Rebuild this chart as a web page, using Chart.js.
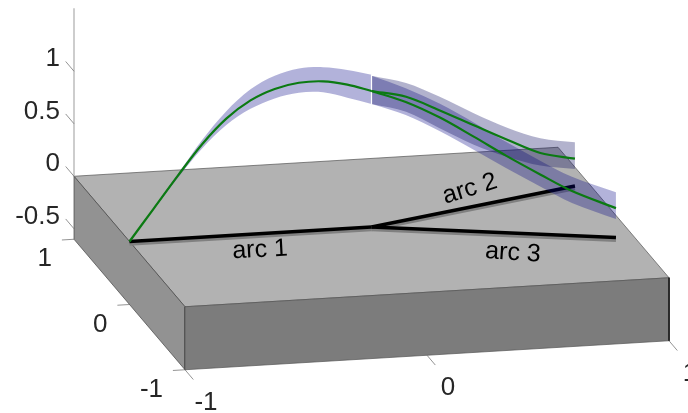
<!DOCTYPE html>
<html>
<head>
<meta charset="utf-8">
<style>
  html, body { margin: 0; padding: 0; background: #fff; overflow: hidden; }
  canvas { display: block; }
</style>
<script src="https://cdn.jsdelivr.net/npm/chart.js@4"></script>
</head>
<body>
<canvas id="grafico" width="688" height="413"></canvas>
<script>
// valores
const zTicks = [-0.5, 0, 0.5, 1];
const yTicks = [-1, 0, 1];
const xTicks = [-1, 0, 1];

// arco 1: de (-1,0) ate a juncao (0,0)
const arc1X = [-1, -0.9, -0.8, -0.7, -0.6, -0.5, -0.4, -0.3, -0.2, -0.1, 0];
const arc1Mean = [0, 0.3, 0.6, 0.885, 1.115, 1.275, 1.37, 1.415, 1.415, 1.37, 1.295];
const arc1Upper = [0, 0.305, 0.615, 0.925, 1.185, 1.38, 1.495, 1.55, 1.55, 1.51, 1.45];
const arc1Lower = [0, 0.29, 0.58, 0.845, 1.055, 1.195, 1.28, 1.32, 1.31, 1.245, 1.171];

// arco 2: da juncao ate (0.937, 0.42)
const arc2End = [0.937, 0.42];
const arc2S = [0, 0.17, 0.33, 0.5, 0.67, 0.83, 1];
const arc2Mean = [1.295, 1.174, 0.986, 0.776, 0.567, 0.381, 0.26];
const arc2Upper = [1.441, 1.306, 1.116, 0.891, 0.681, 0.521, 0.416];
const arc2Lower = [1.171, 1.031, 0.816, 0.591, 0.406, 0.261, 0.161];

// arco 3: da juncao ate (0.926, -0.367)
const arc3End = [0.926, -0.367];
const arc3S = [0, 0.14, 0.28, 0.42, 0.55, 0.69, 0.82, 1];
const arc3Mean = [1.295, 1.205, 1.07, 0.9, 0.735, 0.57, 0.425, 0.28];
const arc3Upper = [1.441, 1.336, 1.201, 1.036, 0.866, 0.701, 0.561, 0.43];
const arc3Lower = [1.171, 1.081, 0.941, 0.776, 0.616, 0.456, 0.311, 0.176];

const arcLabels = ["arc 1", "arc 2", "arc 3"];
const arcLabelX = [-0.515, 0.514, 0.469];
const arcLabelY = [-0.238, 0.468, -0.503];
const arcLabelRot = [-3, -17, 4];

const zBase = -0.6;
const zTop = 1.6;

// projecao 3D -> plano do grafico (vista afim do matlab)
function proj(x, y, z) {
  return {
    x: 371.5 + x * 242 - y * 55.5,
    y: 227 - x * 14.5 - y * 65.25 - z * 105
  };
}

const lista = [];

function poly(pts, fillCor, bordaCor, bordaW) {
  lista.push({
    data: pts, fill: "shape", backgroundColor: fillCor,
    borderColor: bordaCor, borderWidth: bordaW, tension: 0
  });
}
function linha(pts, cor, w, extra) {
  lista.push(Object.assign({
    data: pts, fill: false, borderColor: cor, borderWidth: w, tension: 0
  }, extra || {}));
}
function banda(up, low, cor) {
  lista.push({ data: up, fill: { target: "+1" }, backgroundColor: cor, borderWidth: 0, tension: 0.33 });
  lista.push({ data: low, fill: false, borderWidth: 0, tension: 0.33 });
}

// caixa
const c = (x, y, z) => proj(x, y, z);
poly([c(-1, 1, 0), c(1, 1, 0), c(1, -1, 0), c(-1, -1, 0), c(-1, 1, 0)], "#b2b2b2", "#555", 0.7);
poly([c(-1, 1, 0), c(-1, -1, 0), c(-1, -1, zBase), c(-1, 1, zBase), c(-1, 1, 0)], "#929292", "#444", 0.7);
poly([c(-1, -1, 0), c(1, -1, 0), c(1, -1, zBase), c(-1, -1, zBase), c(-1, -1, 0)], "#7c7c7c", "#555", 0.7);
linha([c(1, -1, 0), c(1, -1, zBase)], "#222", 1);

// eixo z e marcas
linha([c(-1, 1, 0), c(-1, 1, zTop)], "#bdbdbd", 1.5);
zTicks.forEach(t => linha([c(-1, 1, t), c(-1, 1.15, t)], "#666", 0.7));
yTicks.forEach(t => linha([c(-1, t, zBase), c(-1.05, t, zBase)], "#666", 0.7));
xTicks.forEach(t => linha([c(t, -1, zBase), c(t, -1.15, zBase)], "#666", 0.7));

// arcos no plano: sombra cinza e linha preta
const ends = [[-1, 0], arc2End, arc3End];
ends.forEach(e => linha([c(e[0], e[1], -0.025), c(0, 0, -0.025)], "#808080", 3.5));
ends.forEach(e => linha([c(e[0], e[1], 0), c(0, 0, 0)], "#000", 3.5));

// faixas
const pontos1 = zs => arc1X.map((x, i) => proj(x, 0, zs[i]));
const pontos2 = zs => arc2S.map((s, i) => proj(s * arc2End[0], s * arc2End[1], zs[i]));
const pontos3 = zs => arc3S.map((s, i) => proj(s * arc3End[0], s * arc3End[1], zs[i]));

banda(pontos1(arc1Upper), pontos1(arc1Lower), "rgba(0,0,133,0.3)");
banda(pontos3(arc3Upper), pontos3(arc3Lower), "rgba(0,0,133,0.3)");
banda(pontos2(arc2Upper), pontos2(arc2Lower), "rgba(0,0,90,0.3)");

linha([proj(0, 0, arc1Lower[10]), proj(0, 0, arc1Upper[10])], "#ffffff", 1.2);

const verde = "#0b7a12";
linha(pontos1(arc1Mean), verde, 2.2, { tension: 0.33 });
linha(pontos3(arc3Mean), verde, 2.2, { tension: 0.33 });
linha(pontos2(arc2Mean), verde, 2.2, { tension: 0.33 });

lista.forEach((d, i) => {
  d.order = lista.length - i;
  d.pointRadius = 0;
  d.clip = false;
});

// textos presos nas escalas
const textos = {
  id: "textos",
  afterDatasetsDraw(chart) {
    const { ctx, scales } = chart;
    const put = (txt, p, dx, dy, align, rot) => {
      ctx.save();
      ctx.translate(scales.x.getPixelForValue(p.x) + dx, scales.y.getPixelForValue(p.y) + dy);
      if (rot) ctx.rotate(rot * Math.PI / 180);
      ctx.textAlign = align;
      ctx.textBaseline = "middle";
      ctx.fillText(txt, 0, 0);
      ctx.restore();
    };
    ctx.save();
    ctx.font = "26px 'Liberation Sans', Arial, sans-serif";
    ctx.fillStyle = "#262626";
    zTicks.forEach(t => put(String(t), proj(-1, 1, t), -14, -12, "right"));
    yTicks.forEach(t => put(String(t), proj(-1, t, zBase), -22, 20, "right"));
    xTicks.forEach(t => put(String(t), proj(t, -1, zBase), 21, 33, "center"));
    ctx.font = "25px 'Liberation Sans', Arial, sans-serif";
    ctx.fillStyle = "#000";
    arcLabels.forEach((t, i) => put(t, proj(arcLabelX[i], arcLabelY[i], 0), 0, 0, "center", arcLabelRot[i]));
    ctx.restore();
  }
};

new Chart(document.getElementById("grafico").getContext("2d"), {
  type: "line",
  data: { datasets: lista },
  plugins: [textos],
  options: {
    responsive: false,
    animation: false,
    layout: { padding: 0 },
    plugins: { legend: { display: false }, tooltip: { enabled: false } },
    scales: {
      x: { type: "linear", min: 0, max: 688, display: false },
      y: { type: "linear", min: 0, max: 413, reverse: true, display: false }
    }
  }
});
</script>
</body>
</html>
